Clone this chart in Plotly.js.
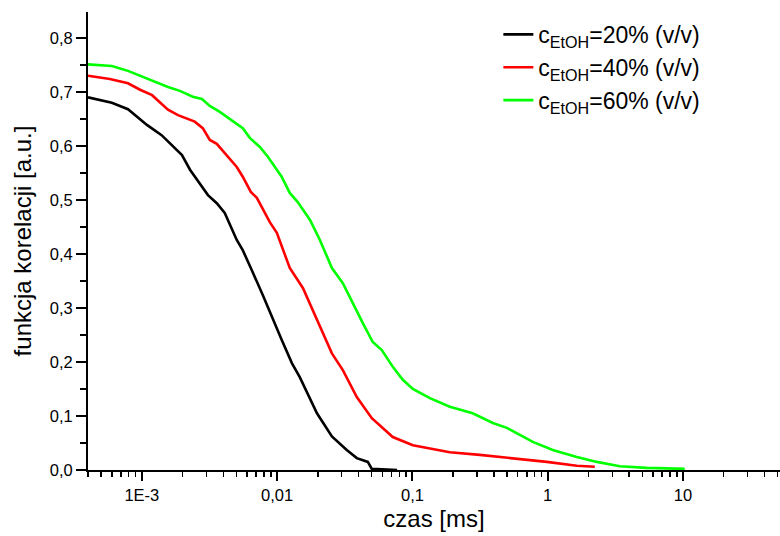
<!DOCTYPE html>
<html>
<head>
<meta charset="utf-8">
<script src="https://cdn.plot.ly/plotly-3.0.1.min.js"></script>
<style>html,body{margin:0;padding:0;background:#fff}#chart{width:780px;height:536px}</style>
</head>
<body>
<div id="chart"></div>
<script>
// Series names
var seriesNames = ['c<sub>EtOH</sub>=20% (v/v)', 'c<sub>EtOH</sub>=40% (v/v)', 'c<sub>EtOH</sub>=60% (v/v)'];

// c_EtOH = 20%
var x20 = [0.0004, 0.0006, 0.00079, 0.00109, 0.0014, 0.00198, 0.00227, 0.00308, 0.00358, 0.0041, 0.00503, 0.00557, 0.0065, 0.00783, 0.0108, 0.01285, 0.0147, 0.0197, 0.0254, 0.0327, 0.0388, 0.0468, 0.0501, 0.077];
var y20 = [0.69, 0.68, 0.668, 0.639, 0.62, 0.583, 0.556, 0.509, 0.494, 0.476, 0.426, 0.407, 0.37, 0.324, 0.241, 0.198, 0.172, 0.105, 0.062, 0.037, 0.022, 0.015, 0.002, 0.0];

// c_EtOH = 40%
var x40 = [0.0004, 0.00058, 0.00079, 0.00097, 0.00119, 0.00156, 0.00185, 0.00246, 0.00282, 0.00318, 0.00358, 0.00425, 0.00503, 0.00557, 0.00639, 0.00708, 0.00883, 0.00995, 0.0124, 0.0155, 0.0197, 0.0254, 0.0306, 0.0388, 0.0501, 0.0716, 0.1007, 0.189, 0.315, 0.654, 0.984, 1.64, 2.23];
var y40 = [0.73, 0.724, 0.716, 0.704, 0.694, 0.667, 0.657, 0.645, 0.633, 0.611, 0.604, 0.583, 0.561, 0.543, 0.515, 0.504, 0.459, 0.439, 0.374, 0.337, 0.278, 0.216, 0.185, 0.135, 0.096, 0.061, 0.046, 0.033, 0.028, 0.02, 0.015, 0.008, 0.006];

// c_EtOH = 60%
var x60 = [0.0004, 0.0006, 0.00079, 0.00097, 0.0012, 0.00156, 0.00191, 0.00238, 0.00278, 0.00318, 0.00377, 0.00503, 0.00557, 0.00628, 0.00745, 0.00854, 0.0108, 0.0124, 0.0142, 0.0175, 0.0207, 0.0254, 0.0306, 0.043, 0.0509, 0.0594, 0.0716, 0.0849, 0.1007, 0.1346, 0.189, 0.279, 0.393, 0.499, 0.776, 1.09, 1.64, 2.31, 3.41, 5.4, 10.3];
var y60 = [0.751, 0.748, 0.739, 0.73, 0.72, 0.709, 0.702, 0.691, 0.687, 0.674, 0.663, 0.642, 0.633, 0.615, 0.598, 0.58, 0.543, 0.513, 0.496, 0.463, 0.426, 0.374, 0.346, 0.272, 0.237, 0.222, 0.191, 0.167, 0.15, 0.133, 0.117, 0.105, 0.087, 0.078, 0.052, 0.037, 0.024, 0.015, 0.007, 0.004, 0.002];

// Tick labels
var xTickVals = [0.001, 0.01, 0.1, 1, 10];
var xTickText = ['1E-3', '0,01', '0,1', '1', '10'];
var yTickVals = [0, 0.1, 0.2, 0.3, 0.4, 0.5, 0.6, 0.7, 0.8];
var yTickText = ['0,0', '0,1', '0,2', '0,3', '0,4', '0,5', '0,6', '0,7', '0,8'];

var colors = ['#000000', '#ff0000', '#00ff00'];
var xs = [x20, x40, x60], ys = [y20, y40, y60];

var traces = xs.map(function (xv, i) {
  return {
    x: xv, y: ys[i], type: 'scatter', mode: 'lines', name: seriesNames[i],
    line: {color: colors[i], width: 2.6}, cliponaxis: false
  };
});

// minor log ticks (2..9 per decade)
var minorX = [];
for (var d = -4; d <= 1; d++) {
  for (var m = 2; m <= 9; m++) minorX.push(m * Math.pow(10, d));
}

var FONT = 'Liberation Sans, Arial, sans-serif';

var layout = {
  width: 780, height: 536,
  margin: {l: 88, r: 0, t: 12, b: 66, pad: 0},
  paper_bgcolor: '#fff', plot_bgcolor: '#fff',
  font: {family: FONT, color: '#000', size: 16},
  showlegend: true,
  legend: {
    x: 0.593, y: 0.998, xanchor: 'left', yanchor: 'top',
    bgcolor: 'rgba(0,0,0,0)', borderwidth: 0,
    font: {family: FONT, size: 23, color: '#000'}
  },
  xaxis: {
    type: 'log', range: [-3.398, 1.717],
    tickmode: 'array', tickvals: xTickVals, ticktext: xTickText,
    ticks: 'outside', ticklen: 9, tickwidth: 2, tickcolor: '#000',
    minor: {tickmode: 'array', tickvals: minorX, ticks: 'outside', ticklen: 5, tickwidth: 1.5, tickcolor: '#000', showgrid: false},
    showline: true, linecolor: '#000', linewidth: 2,
    showgrid: false, zeroline: false,
    tickfont: {family: FONT, size: 16.5, color: '#000'},
    title: {text: 'czas [ms]', font: {family: FONT, size: 24, color: '#000'}, standoff: 7}
  },
  yaxis: {
    range: [0, 0.848],
    tickmode: 'array', tickvals: yTickVals, ticktext: yTickText,
    ticks: 'outside', ticklen: 10, tickwidth: 2, tickcolor: '#000',
    minor: {tick0: 0, dtick: 0.05, ticks: 'outside', ticklen: 6, tickwidth: 1.5, tickcolor: '#000', showgrid: false},
    showline: true, linecolor: '#000', linewidth: 2,
    showgrid: false, zeroline: false,
    tickfont: {family: FONT, size: 16.5, color: '#000'},
    title: {text: 'funkcja korelacji [a.u.]', font: {family: FONT, size: 24, color: '#000'}, standoff: 11}
  }
};

Plotly.newPlot('chart', traces, layout, {displayModeBar: false, staticPlot: true});
</script>
</body>
</html>
